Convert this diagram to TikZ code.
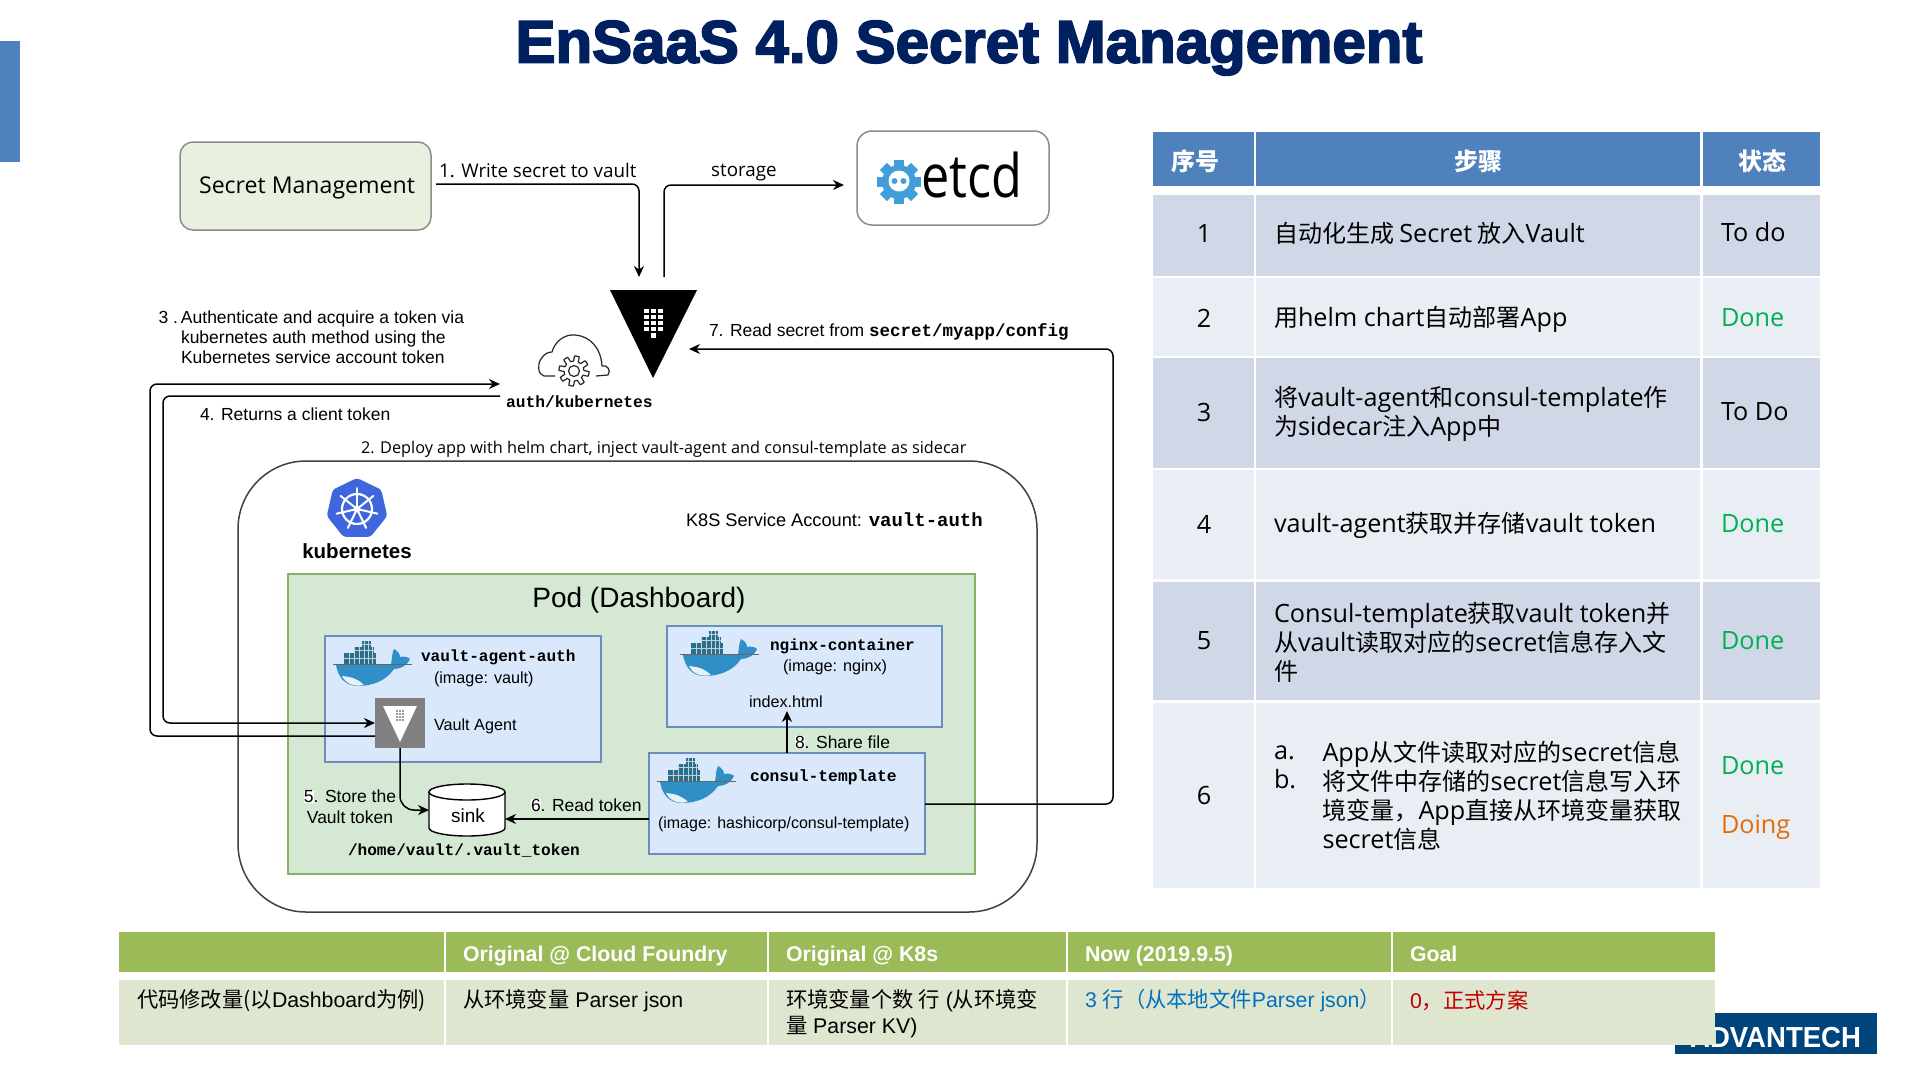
\documentclass[tikz,border=0pt]{standalone}
\usepackage{fontspec}
\usepackage{graphicx}
\usetikzlibrary{arrows.meta}
\setmainfont{Liberation Sans}
\setmonofont{Liberation Mono}
\newfontfamily\zhfont{Noto Sans CJK SC}
\newfontfamily\osfont{Open Sans}
\newfontfamily\tl[Scale=1.05]{Open Sans}
\newfontfamily\titlefont[FakeBold=3]{Liberation Sans Bold}
\newcommand\zh[1]{{\zhfont #1}}
\newcommand\fs[2]{\fontsize{#1}{#2}\selectfont}
\newcommand\dig[1]{{\setlength\fboxsep{0pt}\colorbox{white}{#1}}}
\newcommand\mb[1]{{\ttfamily\bfseries #1}}
\definecolor{navy}{HTML}{002060}
\definecolor{hblue}{HTML}{4F81BD}
\definecolor{rowa}{HTML}{D0D8E8}
\definecolor{rowb}{HTML}{E9EDF4}
\definecolor{hgreen}{HTML}{9BBB59}
\definecolor{rowg}{HTML}{DFE6D0}
\definecolor{smfill}{HTML}{EAF0DF}
\definecolor{edge}{HTML}{8C8C8C}
\definecolor{podfill}{HTML}{D5E8D4}
\definecolor{podedge}{HTML}{82B366}
\definecolor{boxfill}{HTML}{DAE8FC}
\definecolor{boxedge}{HTML}{6C8EBF}
\definecolor{whale}{HTML}{2F8FC6}
\definecolor{crate}{HTML}{2B6E8C}
\definecolor{etcdblue}{HTML}{419EDA}
\definecolor{k8sblue}{HTML}{3F66DC}
\definecolor{logo}{HTML}{00447C}
\definecolor{okgreen}{HTML}{00B050}
\definecolor{doing}{HTML}{E36C0A}
\definecolor{linkblue}{HTML}{0070C0}
\definecolor{redtxt}{HTML}{C00000}
\newcommand\cell[6]{\node[cellbox,fill=#6,minimum width={(#4)-(#2)},minimum height={(#5)-(#3)}] (#1) at ({((#2)+(#4))/2},{((#3)+(#5))/2}) {};}
\tikzset{
 cellbox/.style={inner sep=0pt,outer sep=0pt,draw=none},
 areabox/.style={inner sep=0pt,outer sep=0pt,draw,line width=1.5pt},
 lbl/.style={inner sep=0pt,outer sep=0pt,anchor=west,align=left},
 ctr/.style={inner sep=0pt,outer sep=0pt,anchor=center,align=center},
 tcell/.style={lbl,font=\zhfont\fs{24}{29}},
 tnum/.style={ctr,font=\tl\fs{24}{29}},
 thead/.style={ctr,font=\zhfont\bfseries\fs{24}{29},text=white},
 tstate/.style={lbl,font=\tl\fs{24}{29},text height=20pt,text depth=3pt},
 bhead/.style={lbl,font=\bfseries\fs{21.3}{24},text=white,text height=16pt,text depth=4pt},
 brow/.style={lbl,font=\fs{21.3}{26}},
 small/.style={lbl,font=\fs{17.5}{20.2}},
 wire/.style={draw=black,line width=1.5pt,rounded corners=7pt},
 head/.style={-{Stealth[length=11pt,width=10pt]}},
 whalepic/.pic={
  \fill[crate] (10,12) rectangle (42,23);
  \fill[crate] (20,6) rectangle (40,12);
  \fill[crate] (28,0) rectangle (37,6);
  \draw[white!70!crate,line width=.4pt] (15,12)--(15,23) (20,6)--(20,23) (25,6)--(25,23) (30,0)--(30,23) (34,0)--(34,23) (38,6)--(38,23) (10,17.5)--(42,17.5) (20,9)--(40,9) (28,3)--(37,3);
  \fill[whale] (2,24) -- (57,24) .. controls (58,17) and (58,12) .. (60,8) .. controls (64,10) and (66,13) .. (66,16) .. controls (70,15) and (74,16) .. (76,18) .. controls (73,25) and (66,28) .. (60,28) .. controls (52,40) and (38,45) .. (24,45) .. controls (10,45) and (4,35) .. (2,24) -- cycle;
  \fill[white!88!whale] (8,35) .. controls (18,36) and (24,38) .. (30,44) .. controls (20,46) and (12,43) .. (8,35) -- cycle;
  \draw[black!60,line width=.7pt] (-1,23.5) -- (78,23.5);
  \fill[black!55] (22,36) circle (.8);
 }
}
\begin{document}
\begin{tikzpicture}[x=1pt,y=-1pt]
\useasboundingbox (0,0) rectangle (1920,1080);
\fill[white] (0,0) rectangle (1920,1080);
% side bar and title
\cell{sidebar}{0}{41}{20}{162}{hblue}
\node[ctr,font=\titlefont\fs{60}{66},text=navy] (title) at (969,48) {EnSaaS 4.0 Secret Management};

% top boxes
\node[areabox,draw=edge,fill=smfill,rounded corners=13pt,minimum width=251pt,minimum height=88pt] (sm) at (305.5,186) {};
\node[ctr,font=\osfont\fs{23.1}{29}] (smt) at (307,188) {Secret Management};
\node[areabox,draw=edge,fill=white,rounded corners=15pt,minimum width=192pt,minimum height=94pt] (etcd) at (953,178) {};
\node[ctr,font=\osfont\fs{60}{60}] (etcdt) at (972,175) {\scalebox{0.84}[1]{etcd}};
\coordinate (etcdin) at (844,185);
% etcd gear
\begin{scope}[shift={(899,182)}]
 \foreach \a in {0,45,...,315}{\fill[etcdblue,rotate=\a] (-5,-22) rectangle (5,0);}
 \fill[etcdblue] (0,0) circle (17);
 \fill[white] (0,-1) circle (10.5);
 \fill[etcdblue] (-4.5,-1) circle (3) (4.5,-1) circle (3);
\end{scope}

% vault triangle
\coordinate (vaultin) at (639,277);
\coordinate (vaultout) at (664,277);
\coordinate (vaultleft) at (689,349);
\fill[black] (610,290) -- (697,290) -- (653,378) -- cycle;
\foreach \y in {311,317,323,329}{\foreach \x in {646.5,653.5,660.5}{\fill[white] (\x-2.4,\y-2.4) rectangle (\x+2.4,\y+2.4);}}
\fill[white] (651,333) rectangle (655.6,338);

% cloud with gear
\draw[black!85,line width=1.2pt,line join=round] (555,376) -- (544,376) .. controls (538,375) and (537,364) .. (541,359) .. controls (544,354) and (548,352) .. (552,352) .. controls (555,341) and (565,334) .. (575,335) .. controls (590,336) and (601,348) .. (602,366) .. controls (606,364) and (612,370) .. (608,375) -- (596,376);
\draw[black!85,line width=1.2pt,line join=round,fill=white] plot[domain=0:360,samples=145] ({574+(12.5+2.6*sign(sin(8*\x)))*cos(\x)},{371+(12.5+2.6*sign(sin(8*\x)))*sin(\x)}) -- cycle;
\draw[black!85,line width=1.2pt] (574,371) circle (5.5);
\node[lbl,font=\ttfamily\bfseries\fs{16.3}{18}] (authk) at (506,402) {auth/kubernetes};

% k8s area
\node[areabox,draw=black!75,fill=white,rounded corners=68pt,minimum width=799pt,minimum height=451pt] (k8s) at (637.5,686.5) {};
\begin{scope}[shift={(357,509)}]
 \fill[k8sblue,rounded corners=3pt] (-90:31) -- (-38.6:31) -- (12.9:31) -- (64.3:31) -- (115.7:31) -- (167.1:31) -- (218.6:31) -- cycle;
 \draw[white,line width=2.2pt] (0,0) circle (15);
 \foreach \a in {-90,-38.6,12.9,64.3,115.7,167.1,218.6}{\draw[white,line width=2pt,line cap=round] (0,0) -- (\a:21);}
 \fill[white] (0,0) circle (3.5);
\end{scope}
\node[ctr,font=\bfseries\fs{20.5}{24}] (k8st) at (357,551) {kubernetes};
\node[lbl,font=\fs{18.2}{20}] (sa) at (686,520) {K8S Service Account: \mb{\fs{19}{20}vault-auth}};

% pod
\node[areabox,draw=podedge,fill=podfill,minimum width=687pt,minimum height=300pt] (pod) at (631.5,724) {};
\node[ctr,font=\fs{28}{32}] (podt) at (639,600) {Pod (Dashboard)};
\node[areabox,draw=boxedge,fill=boxfill,minimum width=276pt,minimum height=126pt] (vbox) at (463,699) {};
\node[areabox,draw=boxedge,fill=boxfill,minimum width=275pt,minimum height=101pt] (nbox) at (804.5,676.5) {};
\node[areabox,draw=boxedge,fill=boxfill,minimum width=276pt,minimum height=101pt] (cbox) at (787,803.5) {};
\pic at (334,641) {whalepic};
\pic at (681,631) {whalepic};
\pic at (658,758) {whalepic};
\node[lbl,font=\ttfamily\bfseries\fs{16.1}{18}] (vt) at (421,657) {vault-agent-auth};
\node[lbl,font=\fs{16.2}{18}] (vi) at (434,679) {(image: vault)};
\node[lbl,font=\fs{16.2}{18}] (va) at (434,726) {Vault Agent};
\node[lbl,font=\ttfamily\bfseries\fs{16.1}{18}] (nt) at (770,646) {nginx-container};
\node[lbl,font=\fs{16.2}{18}] (ni) at (783,667) {(image: nginx)};
\node[lbl,font=\fs{16.2}{18}] (nh) at (749,702) {index.html};
\coordinate (nhtip) at (787,711);
\node[lbl,font=\ttfamily\bfseries\fs{16.3}{18}] (ct) at (750,777) {consul-template};
\node[lbl,font=\fs{16}{18}] (ci) at (658,824) {(image: hashicorp/consul-template)};

% vault agent square
\node[cellbox,fill=black!50,minimum width=50pt,minimum height=50pt] (agent) at (400,723) {};
\fill[white] (383,706) -- (417,706) -- (400,742) -- cycle;
\foreach \y in {711,714,717,720}{\foreach \x in {397,400,403}{\fill[black!40] (\x-1,\y-1) rectangle (\x+1,\y+1);}}

% sink
\draw[black,line width=1.4pt,fill=white] (429,792) -- (429,828) arc[start angle=180,end angle=0,x radius=38,y radius=8] -- (505,792);
\draw[black,line width=1.4pt,fill=white] (467,792) ellipse[x radius=38,y radius=8];
\node[ctr,font=\fs{19}{22}] (sink) at (468,816) {sink};
\coordinate (sinkw) at (429,810);
\coordinate (sinke) at (505,819);
\node[lbl,font=\ttfamily\bfseries\fs{16.1}{18}] (vtok) at (348,851) {/home/vault/.vault\_token};

% connectors
\coordinate (a3end) at (500,384);
\coordinate (a4start) at (500,396);
\draw[wire,head] (sm.east |- 0,184) ++(5,0) -- (639,184) -- (vaultin);
\draw[wire,head] (vaultout) -- (664,185) -- (etcdin);
\draw[wire,head] (agent.west |- 0,736) -- (150,736) -- (150,384) -- (a3end);
\draw[wire,head] (a4start) -- (163,396) -- (163,723) -- (agent.west |- 0,723);
\draw[wire,head,rounded corners=14pt] (agent.south) -- (400,810) -- (sinkw);
\draw[wire,head] (cbox.west |- 0,819) -- (sinke);
\draw[wire,head] (cbox.north -| nhtip) -- (nhtip);
\draw[wire,head] (cbox.east |- 0,804) -- (1113,804) -- (1113,349) -- (vaultleft);

% labels
\node[lbl,font=\osfont\fs{18.8}{22}] (l1) at (439,170) {1. Write secret to vault};
\node[ctr,font=\osfont\fs{18.8}{22}] (l1b) at (744,173) {storage};
\node[small] (l3) at (181,337) {\llap{3 .\,}Authenticate and acquire a token via\\kubernetes auth method using the\\Kubernetes service account token};
\node[lbl,font=\fs{17.5}{20}] (l7) at (709,332) {7. Read secret from \mb{\fs{17.5}{20}secret/myapp/config}};
\node[lbl,font=\fs{17.5}{20}] (l4) at (200,414) {4. Returns a client token};
\node[lbl,font=\osfont\fs{16.25}{20}] (l2) at (361,449) {2. Deploy app with helm chart, inject vault-agent and consul-template as sidecar};
\node[ctr,font=\fs{17.5}{21}] (l5) at (350,807) {\dig{5}. Store the\\Vault token};
\node[lbl,font=\fs{17.5}{20}] (l6) at (531,805) {\dig{6}. Read token};
\node[lbl,font=\fs{17.5}{20}] (l8) at (795,742) {\dig{8}. Share file};

% right table
\cell{h1}{1153}{131.5}{1254}{186}{hblue}
\cell{h2}{1256}{131.5}{1700}{186}{hblue}
\cell{h3}{1703}{131.5}{1820}{186}{hblue}
\cell{a1}{1153}{195}{1254}{276}{rowa}\cell{b1}{1256}{195}{1700}{276}{rowa}\cell{c1}{1703}{195}{1820}{276}{rowa}
\cell{a2}{1153}{278}{1254}{356}{rowb}\cell{b2}{1256}{278}{1700}{356}{rowb}\cell{c2}{1703}{278}{1820}{356}{rowb}
\cell{a3}{1153}{358}{1254}{468}{rowa}\cell{b3}{1256}{358}{1700}{468}{rowa}\cell{c3}{1703}{358}{1820}{468}{rowa}
\cell{a4}{1153}{470}{1254}{579}{rowb}\cell{b4}{1256}{470}{1700}{579}{rowb}\cell{c4}{1703}{470}{1820}{579}{rowb}
\cell{a5}{1153}{582}{1254}{700}{rowa}\cell{b5}{1256}{582}{1700}{700}{rowa}\cell{c5}{1703}{582}{1820}{700}{rowa}
\cell{a6}{1153}{703}{1254}{888}{rowb}\cell{b6}{1256}{703}{1700}{888}{rowb}\cell{c6}{1703}{703}{1820}{888}{rowb}
\node[thead] (th1) at (1195,161) {序号};
\node[thead] (th2) at (1478,161) {步骤};
\node[thead] (th3) at (1762,161) {状态};
\node[tnum] (n1) at (1204,233) {1};
\node[tnum] (n2) at (1204,318) {2};
\node[tnum] (n3) at (1204,412) {3};
\node[tnum] (n4) at (1204,524) {4};
\node[tnum] (n5) at (1204,641) {5};
\node[tnum] (n6) at (1204,795) {6};
\node[tcell] (s1) at (1274,233) {自动化生成 {\tl Secret} 放入{\tl Vault}};
\node[tcell] (s2) at (1274,319) {用{\tl helm chart}自动部署{\tl App}};
\node[tcell] (s3) at (1274,413.5) {将{\tl vault-agent}和{\tl consul-template}作\\为{\tl sidecar}注入{\tl App}中};
\node[tcell] (s4) at (1274,525) {{\tl vault-agent}获取并存储{\tl vault token}};
\node[tcell] (s5) at (1274,642) {{\tl Consul-template}获取{\tl vault token}并\\从{\tl vault}读取对应的{\tl secret}信息存入文\\件};
\node[tcell] (s6l) at (1274,767) {{\tl a.}\\{\tl b.}};
\node[tcell] (s6) at (1322.5,796) {{\tl App}从文件读取对应的{\tl secret}信息\\将文件中存储的{\tl secret}信息写入环\\境变量，{\tl App}直接从环境变量获取\\{\tl secret}信息};
\node[tstate] (st1) at (1721,233) {To do};
\node[tstate,text=okgreen] (st2) at (1721,318) {Done};
\node[tstate] (st3) at (1721,412) {To Do};
\node[tstate,text=okgreen] (st4) at (1721,524) {Done};
\node[tstate,text=okgreen] (st5) at (1721,641) {Done};
\node[tstate,text=okgreen] (st6) at (1721,766) {Done};
\node[tstate,text=doing] (st7) at (1721,825) {Doing};

% logo under the bottom table
\cell{logobox}{1675}{1013}{1877}{1054}{logo}
\node[inner sep=0pt,outer sep=0pt,anchor=east,font=\bfseries\fs{29}{30},text=white] (logot) at (1861,1037.5) {\scalebox{0.95}[1]{ADVANTECH}};

% bottom table
\cell{g1}{119}{932}{444}{972}{hgreen}\cell{g2}{446}{932}{767}{972}{hgreen}\cell{g3}{769}{932}{1066}{972}{hgreen}\cell{g4}{1068}{932}{1391}{972}{hgreen}\cell{g5}{1393}{932}{1715}{972}{hgreen}
\cell{r1}{119}{980}{444}{1045}{rowg}\cell{r2}{446}{980}{767}{1045}{rowg}\cell{r3}{769}{980}{1066}{1045}{rowg}\cell{r4}{1068}{980}{1391}{1045}{rowg}\cell{r5}{1393}{980}{1715}{1045}{rowg}
\node[bhead] (gt2) at (463,955) {Original @ Cloud Foundry};
\node[bhead] (gt3) at (786,955) {Original @ K8s};
\node[bhead] (gt4) at (1085,955) {Now (2019.9.5)};
\node[bhead] (gt5) at (1410,955) {Goal};
\node[brow] (rt1) at (137,1001) {\zh{代码修改量(以}Dashboard\zh{为例)}};
\node[brow] (rt2) at (463,1001) {\zh{从环境变量} Parser json};
\node[brow] (rt3) at (786,1014) {\zh{环境变量个数 行} (\zh{从环境变}\\\zh{量} Parser KV)};
\node[brow,text=linkblue] (rt4) at (1085,1001) {3 \zh{行（从本地文件}Parser json\zh{）}};
\node[brow,text=redtxt] (rt5) at (1410,1001) {0\zh{，正式方案}};
\end{tikzpicture}
\end{document}
